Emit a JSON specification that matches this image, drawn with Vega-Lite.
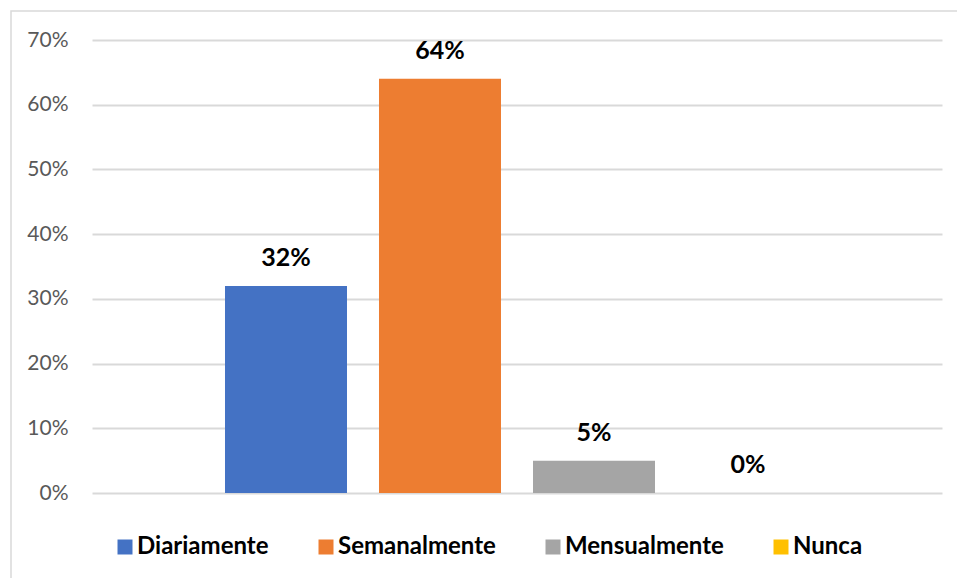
{
  "$schema": "https://vega.github.io/schema/vega-lite/v6.json",
  "autosize": {"type": "none"},
  "padding": {"left": 11, "top": 11, "right": 0, "bottom": 0},
  "width": 950,
  "height": 570,
  "background": "white",
  "config": {
    "view": {"stroke": "#d9d9d9", "strokeWidth": 1.5},
    "font": "Lato"
  },
  "data": {
    "values": [
      {"serie": "Diariamente", "valor": 0.32},
      {"serie": "Semanalmente", "valor": 0.64},
      {"serie": "Mensualmente", "valor": 0.05},
      {"serie": "Nunca", "valor": 0.0}
    ]
  },
  "encoding": {
    "x": {
      "field": "serie",
      "type": "nominal",
      "sort": ["Diariamente", "Semanalmente", "Mensualmente", "Nunca"],
      "scale": {"range": [81, 931], "paddingInner": 0.2078, "paddingOuter": 0.8636},
      "axis": null
    },
    "y": {
      "field": "valor",
      "type": "quantitative",
      "scale": {"domain": [0, 0.7], "range": [482, 29], "nice": false},
      "axis": {
        "values": [0, 0.1, 0.2, 0.3, 0.4, 0.5, 0.6, 0.7],
        "format": ".0%",
        "title": null,
        "offset": -81,
        "domain": false,
        "ticks": false,
        "labelPadding": 24,
        "labelFont": "Lato",
        "labelFontSize": 21,
        "labelColor": "#595959",
        "grid": true,
        "gridColor": "#d9d9d9",
        "gridWidth": 2
      }
    }
  },
  "layer": [
    {
      "mark": {"type": "bar"},
      "encoding": {
        "color": {
          "field": "serie",
          "type": "nominal",
          "sort": ["Diariamente", "Semanalmente", "Mensualmente", "Nunca"],
          "scale": {
            "domain": ["Diariamente", "Semanalmente", "Mensualmente", "Nunca"],
            "range": ["#4472C4", "#ED7D31", "#A5A5A5", "#FFC000"]
          },
          "legend": {
            "orient": "none",
            "direction": "horizontal",
            "legendX": 102,
            "legendY": 524,
            "title": null,
            "padding": 0,
            "symbolType": "square",
            "symbolSize": 225,
            "symbolStrokeWidth": 0,
            "symbolOpacity": 1,
            "labelFont": "Lato",
            "labelFontSize": 24,
            "labelFontWeight": "bold",
            "labelColor": "black",
            "labelOffset": 0,
            "columnPadding": 45,
            "labelLimit": 400
          }
        }
      }
    },
    {
      "mark": {
        "type": "text",
        "baseline": "alphabetic",
        "dy": -20,
        "font": "Lato",
        "fontSize": 25,
        "fontWeight": "bold",
        "color": "black"
      },
      "encoding": {
        "text": {"field": "valor", "type": "quantitative", "format": ".0%"}
      }
    }
  ]
}
